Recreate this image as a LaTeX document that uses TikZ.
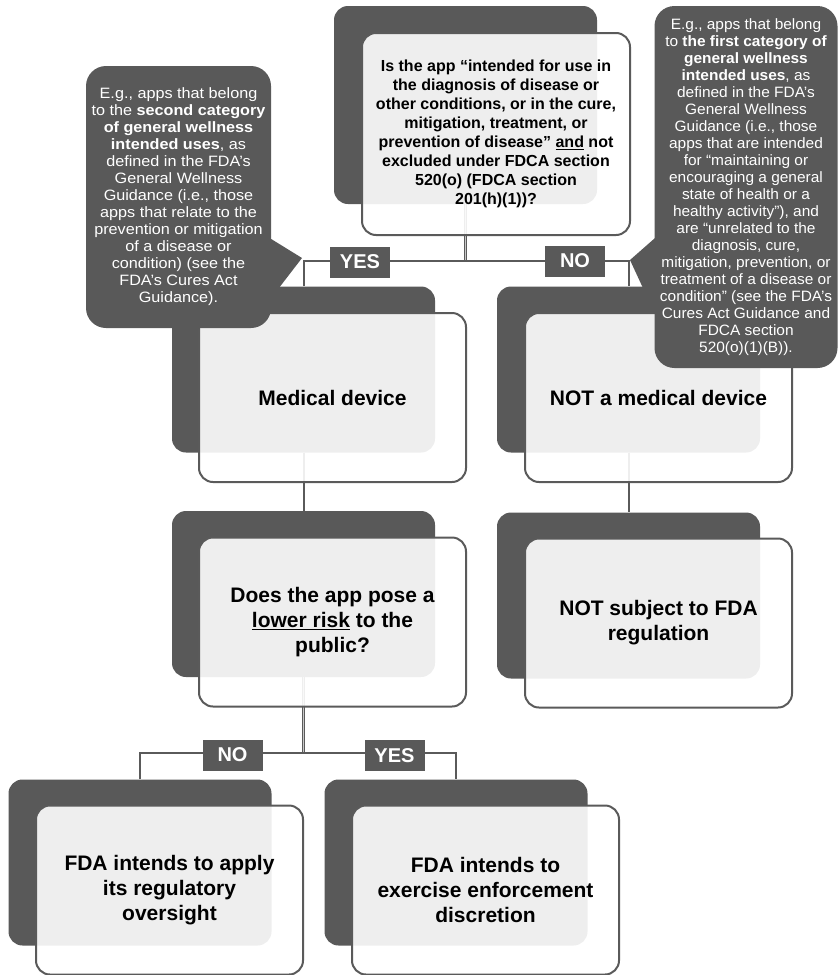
\documentclass[tikz,border=0pt]{standalone}
\usepackage{fontspec}
\setmainfont{Liberation Sans}
\newfontfamily\callfont[FakeStretch=1.08]{Liberation Sans}
\newfontfamily\callfontb[FakeStretch=1.03]{Liberation Sans}
\definecolor{dk}{RGB}{89,89,89}
\definecolor{ln}{RGB}{90,90,90}
\definecolor{lt}{RGB}{200,200,200}
\tikzset{
 back/.style={fill=dk, rounded corners=14pt, minimum width=263pt, minimum height=166pt, inner sep=0pt},
 front/.style={draw=ln, line width=2pt, fill=white, fill opacity=0.9, text opacity=1, rounded corners=14pt, minimum width=267pt, minimum height=169pt, inner sep=0pt, align=center, font=\fontsize{21}{25}\selectfont\bfseries},
 conn/.style={draw=ln, line width=2pt},
 stem/.style={draw=ln, line width=1.2pt, double=lt, double distance=0.8pt},
 lbl/.style={fill=dk, text=white, font=\fontsize{20}{22}\selectfont\bfseries, minimum width=60pt, minimum height=31pt, inner sep=0pt},
 callout/.style={fill=dk, rounded corners=20pt, text=white, align=center, inner sep=0pt, font=\callfont\fontsize{15}{17}\selectfont},
}
\begin{document}
\begin{tikzpicture}[x=1pt,y=-1pt]
\useasboundingbox (0,0) rectangle (838,975);
% back boxes
\node[back, minimum height=198pt] (qb) at (465.5,105) {};
\node[back] (mdb) at (303.5,369.5) {};
\node[back] (nmdb) at (628.5,369.5) {};
\node[back] (lrb) at (303.5,594) {};
\node[back] (nsb) at (628.5,595.5) {};
\node[back] (blb) at (140,862.5) {};
\node[back] (brb) at (456,862.5) {};
% junctions
\coordinate (j1) at (465.5,261);
\coordinate (j2) at (303.5,753);
% connectors
\draw[stem] (qb.south) -- (j1);
\draw[conn] (mdb.north) -- (mdb.north |- j1) -- (nmdb.north |- j1) -- (nmdb.north);
\draw[conn] (mdb.south) -- (lrb.north);
\draw[conn] (nmdb.south) -- (nsb.north);
\draw[stem] (lrb.south) -- (j2);
\draw[conn] (blb.north) -- (blb.north |- j2) -- (brb.north |- j2) -- (brb.north);
% front boxes
\node[front, minimum width=268pt, minimum height=202pt, font=\fontsize{16}{19}\selectfont\bfseries] (q) at (496,134)
 {Is the app “intended for use in\\the diagnosis of disease or\\other conditions, or in the cure,\\mitigation, treatment, or\\prevention of disease” \underline{and} not\\excluded under FDCA section\\520(o) (FDCA section\\201(h)(1))?};
\node[front] (md) at (332.5,397.5) {Medical device};
\node[front] (nmd) at (658.5,397.5) {NOT a medical device};
\node[front] (lr) at (332.5,622) {Does the app pose a\\\underline{lower risk} to the\\public?};
\node[front] (ns) at (658.5,623) {NOT subject to FDA\\regulation};
\node[front] (bl) at (169.5,890) {FDA intends to apply\\its regulatory\\oversight};
\node[front] (br) at (485.5,890) {FDA intends to\\exercise enforcement\\discretion};
% labels
\node[lbl] (yes1) at (360,262) {YES};
\node[lbl] (no1) at (575,261) {NO};
\node[lbl] (no2) at (232.5,755) {NO};
\node[lbl] (yes2) at (394.5,755.5) {YES};
% callouts
\node[callout, minimum width=185pt, minimum height=262pt] (lc) at (178.5,197)
 {E.g., apps that belong\\to the \textbf{second category}\\\textbf{of general wellness}\\\textbf{intended uses}, as\\defined in the FDA’s\\General Wellness\\Guidance (i.e., those\\apps that relate to the\\prevention or mitigation\\of a disease or\\condition) (see the\\FDA’s Cures Act\\Guidance).};
\fill[dk] (lc.east |- 0,239) -- (302,258) -- (lc.east |- 0,298) -- cycle;
\node[callout, font=\callfontb\fontsize{15}{17}\selectfont, minimum width=183pt, minimum height=362pt] (rc) at (746,187)
 {E.g., apps that belong\\to \textbf{the first category of}\\\textbf{general wellness}\\\textbf{intended uses}, as\\defined in the FDA’s\\General Wellness\\Guidance (i.e., those\\apps that are intended\\for “maintaining or\\encouraging a general\\state of health or a\\healthy activity”), and\\are “unrelated to the\\diagnosis, cure,\\mitigation, prevention, or\\treatment of a disease or\\condition” (see the FDA’s\\Cures Act Guidance and\\FDCA section\\520(o)(1)(B)).};
\fill[dk] ([xshift=3pt]rc.west |- 0,236) -- (630,260) -- ([xshift=3pt]rc.west |- 0,319) -- cycle;
\end{tikzpicture}
\end{document}
